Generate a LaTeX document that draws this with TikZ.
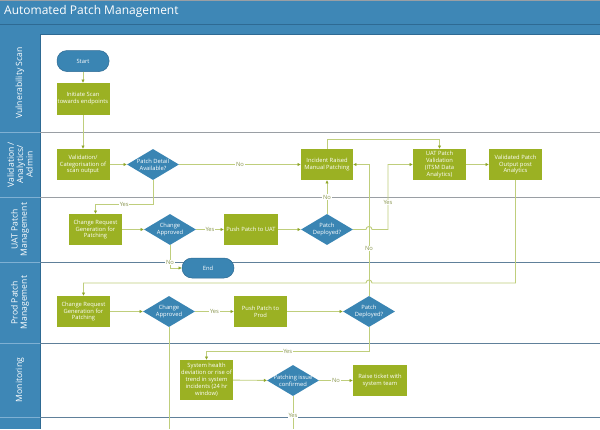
\documentclass[tikz,border=0pt]{standalone}
\usepackage{fontspec}
\setmainfont{Open Sans}
\usetikzlibrary{shapes.geometric,arrows.meta}
\definecolor{hdr}{HTML}{3E87B6}
\definecolor{hdrdark}{HTML}{2E6A93}
\definecolor{hdrlight}{HTML}{7FB0D3}
\definecolor{dia}{HTML}{3A85B3}
\definecolor{grn}{HTML}{9BB123}
\definecolor{conn}{HTML}{BFCE7C}
\definecolor{tipc}{HTML}{8EA528}
\definecolor{lbl}{HTML}{8A9650}
\definecolor{divgray}{HTML}{9A9FA4}
\definecolor{divslate}{HTML}{60809A}
\tikzset{
  greenbox/.style={rectangle,fill=grn,text=white,align=center,font=\fontsize{5.8}{6.9}\selectfont,minimum width=53pt,minimum height=31pt,inner sep=1pt},
  decision/.style={diamond,fill=dia,minimum width=52pt,minimum height=31pt,inner sep=0pt},
  dtext/.style={text=white,align=center,font=\fontsize{5.8}{6.9}\selectfont,inner sep=0pt},
  terminal/.style={rectangle,rounded corners=10pt,fill=dia,draw=hdrdark,line width=0.5pt,text=white,font=\fontsize{5.8}{6.9}\selectfont,minimum width=52pt,minimum height=21pt},
  conn/.style={draw=conn,line width=0.9pt,-{Latex[length=3.2pt,width=3.4pt,color=tipc]}},
  plain/.style={draw=conn,line width=0.9pt},
  elbl/.style={fill=white,text=lbl,font=\fontsize{5.8}{6}\selectfont,inner sep=0.6pt},
  lanelbl/.style={rotate=90,text=white,align=center,font=\fontsize{8.6}{9.4}\selectfont},
}
\begin{document}
\begin{tikzpicture}[x=1pt,y=-1pt]
\useasboundingbox (0,0) rectangle (600,429);
% header
\fill[white] (0,0) rectangle (600,429);
\fill[hdr] (0,0) rectangle (600,34);
\draw[divgray,line width=0.8pt] (0,0.4) -- (600,0.4);
\draw[hdrdark,line width=1pt] (0,24) -- (600,24);
\draw[hdrdark,line width=1pt] (0,34) -- (600,34);
\node[anchor=west,text=white,font=\fontsize{12}{14}\selectfont,inner sep=0pt] (title) at (4,11.5) {Automated Patch Management};
% lane column
\fill[hdr] (0,34) rectangle (40,429);
\draw[hdrdark,line width=1pt] (40,34) -- (40,429);
% dividers
\foreach \yy in {132,197,262,343,417} {\draw[hdrlight,line width=0.8pt] (0,\yy) -- (40,\yy);}
\foreach \yy in {132,197} {\draw[divgray,line width=1pt] (40,\yy) -- (600,\yy);}
\foreach \yy in {262,343,417} {\draw[divslate,line width=1pt] (40,\yy) -- (600,\yy);}
% lane labels
\node[lanelbl] (l1) at (20,83) {Vulnerability Scan};
\node[lanelbl] (l2) at (20,164.5) {Validation /\\Analytics/\\Admin};
\node[lanelbl] (l3) at (20,229.5) {UAT Patch\\Management};
\node[lanelbl] (l4) at (20,302.5) {Prod Patch\\Management};
\node[lanelbl] (l5) at (20,380) {Monitoring};
% nodes
\node[terminal] (start) at (83,61) {Start};
\node[greenbox,minimum height=32pt] (scan) at (83,99) {Initiate Scan\\towards endpoints};
\node[greenbox] (valid) at (83,164.5) {Validation/\\Categorisation of\\scan output};
\node[decision,label={[dtext]center:Patch Detail\\Available?}] (pda) at (153,164.5) {};
\node[greenbox,minimum width=52pt] (incident) at (327,164.5) {Incident Raised\\Manual Patching};
\node[greenbox] (uatval) at (439.5,164.5) {UAT Patch\\Validation\\(ITSM Data\\Analytics)};
\node[greenbox] (validated) at (515.5,164.5) {Validated Patch\\Output post\\Analytics};
\node[greenbox] (uatcr) at (95.5,229.5) {Change Request\\Generation for\\Patching};
\node[decision,label={[dtext]center:Change\\Approved}] (uatca) at (170,229.5) {};
\node[greenbox,minimum width=54pt] (pushuat) at (251,229.5) {Push Patch to UAT};
\node[decision,label={[dtext]center:Patch\\Deployed?}] (uatpd) at (327,229.5) {};
\node[terminal,minimum height=20pt] (end) at (208,268) {End};
\node[greenbox] (prodcr) at (83.5,311.5) {Change Request\\Generation for\\Patching};
\node[decision,label={[dtext]center:Change\\Approved}] (prodca) at (169,311.5) {};
\node[greenbox] (pushprod) at (260.5,311.5) {Push Patch to\\Prod};
\node[decision,label={[dtext]center:Patch\\Deployed?}] (prodpd) at (369,311.5) {};
\node[greenbox,minimum height=40pt] (health) at (206.5,380) {System health\\deviation or rise of\\trend in system\\incidents (24 hr\\window)};
\node[decision,label={[dtext]center:Patching issue\\confirmed}] (pic) at (293,380.5) {};
\node[greenbox,minimum width=54pt] (raise) at (380,380.5) {Raise ticket with\\system team};
\coordinate (bot1) at (169,429);
\coordinate (bot2) at (293,429);
% connectors
\draw[conn] (start) -- (scan);
\draw[conn] (scan) -- (valid);
\draw[conn] (valid) -- (pda);
\draw[conn] (pda) -- node[elbl,pos=0.5]{No} (incident);
\draw[conn] (pda.south) |- (153,204) -- node[elbl]{Yes} (95.5,204) -- (uatcr.north);
\draw[conn] (uatcr) -- (uatca);
\draw[conn] (uatca) -- node[elbl]{Yes} (pushuat);
\draw[conn] (pushuat) -- (uatpd);
\draw[conn] (uatca.south) -- node[elbl,pos=0.75]{No} (170,268) -- (end.west);
\draw[conn] (uatpd.north) -- node[elbl,pos=0.5]{No} (incident.south);
\draw[conn] (uatpd.east) -- (366,229.5) .. controls (366,225.5) and (372,225.5) .. (372,229.5) -- (388,229.5) -- node[elbl,pos=0.42]{Yes} (388,164.5) -- (uatval.west);
\draw[conn] (incident.north) -- (327,139) -- (439.5,139) -- (uatval.north);
\draw[conn] (uatval) -- (validated);
\draw[conn] (validated.south) -- (515.5,283) -- (372,283) .. controls (372,279) and (366,279) .. (366,283) -- (83.5,283) -- (prodcr.north);
\draw[conn] (prodcr) -- (prodca);
\draw[conn] (prodca) -- node[elbl]{Yes} (pushprod);
\draw[conn] (pushprod) -- (prodpd);
\draw[conn] (prodpd.north) -- node[elbl,pos=0.36]{No} (369,164.5) -- (incident.east);
\draw[conn] (prodpd.south) -- (369,351) -- node[elbl]{Yes} (206.5,351) -- (health.north);
\draw[plain] (prodca.south) -- (bot1);
\draw[conn] (health) -- (pic);
\draw[conn] (pic) -- node[elbl]{No} (raise);
\draw[plain] (pic.south) -- node[elbl,pos=0.58]{Yes} (bot2);
\end{tikzpicture}
\end{document}
